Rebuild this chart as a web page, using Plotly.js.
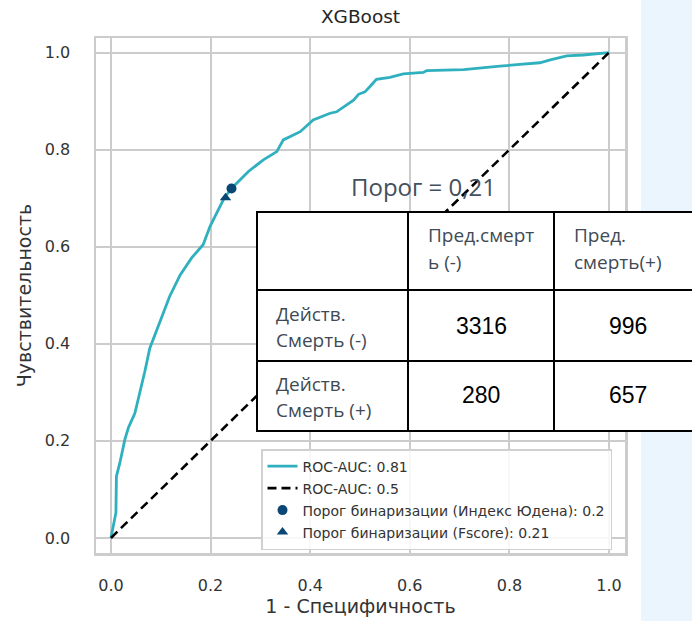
<!DOCTYPE html>
<html>
<head>
<meta charset="utf-8">
<script src="https://cdn.plot.ly/plotly-3.0.1.min.js"></script>
<style>html,body{margin:0;padding:0;background:#fff;}#chart{width:692px;height:621px;}</style>
</head>
<body>
<div id="chart"></div>
<script>
// ROC curve
const fpr = [0, 0.010, 0.011, 0.018, 0.028, 0.035, 0.048, 0.058, 0.068, 0.078, 0.092, 0.105, 0.118, 0.139, 0.162, 0.185, 0.199, 0.219, 0.229, 0.246, 0.276, 0.306, 0.333, 0.346, 0.380, 0.406, 0.440, 0.453, 0.487, 0.497, 0.510, 0.520, 0.533, 0.560, 0.587, 0.627, 0.634, 0.708, 0.748, 0.781, 0.815, 0.861, 0.882, 0.915, 0.948, 0.975, 1.0];
const tpr = [0, 0.052, 0.127, 0.155, 0.203, 0.227, 0.257, 0.298, 0.343, 0.391, 0.429, 0.463, 0.498, 0.542, 0.577, 0.604, 0.642, 0.683, 0.703, 0.724, 0.755, 0.779, 0.796, 0.820, 0.837, 0.861, 0.875, 0.878, 0.902, 0.914, 0.919, 0.930, 0.945, 0.949, 0.956, 0.959, 0.963, 0.965, 0.968, 0.972, 0.975, 0.979, 0.985, 0.993, 0.995, 0.998, 1.0];
const chanceX = [0, 1];
const chanceY = [0, 1];
const youdenX = [0.242];
const youdenY = [0.720];
const fscoreX = [0.230];
const fscoreY = [0.701];
const seriesNames = ["ROC-AUC: 0.81", "ROC-AUC: 0.5", "Порог бинаризации (Индекс Юдена): 0.2", "Порог бинаризации (Fscore): 0.21"];
const xTicks = [0, 0.2, 0.4, 0.6, 0.8, 1.0];
const yTicks = [0, 0.2, 0.4, 0.6, 0.8, 1.0];
const tickText = ["0.0", "0.2", "0.4", "0.6", "0.8", "1.0"];
// confusion matrix table
const thresholdLabel = "Порог = 0,21";
const colHeaders = [["Пред.смерт", "ь (-)"], ["Пред.", "смерть(+)"]];
const rowHeaders = [["Действ.", "Смерть (-)"], ["Действ.", "Смерть (+)"]];
const matrix = [[3316, 996], [280, 657]];

// pixel helpers (plot area: left 96, top 38, width 529, height 515)
const L = 96, T = 38, W = 529, H = 515;
const px = v => (v - L) / W;
const py = v => (T + H - v) / H;

const lineColor = "#2fb0bf";
const markColor = "#0b4775";

const traces = [
  {x: fpr, y: tpr, type: "scatter", mode: "lines", name: seriesNames[0], legendgroup: "a",
   line: {color: lineColor, width: 2.8}},
  {x: chanceX, y: chanceY, type: "scatter", mode: "lines", name: seriesNames[1], legendgroup: "b",
   line: {color: "#000", width: 2.6, dash: "9px,5px"}},
  {x: youdenX, y: youdenY, type: "scatter", mode: "markers", name: seriesNames[2], legendgroup: "c",
   marker: {color: markColor, size: 10, symbol: "circle"}},
  {x: fscoreX, y: fscoreY, type: "scatter", mode: "markers", name: seriesNames[3], legendgroup: "d",
   marker: {color: markColor, size: 10, symbol: "triangle-up"}}
];

// table geometry in pixels
const tl = 257, tr = 720, tt = 212, tb = 431;
const rowLines = [290, 361];
const colLines = [408, 554];
const colTextX = [428, 574];
const colCenters = [481, 628];
const headerLineY = [235, 262];
const rowLineY = [[314, 340], [384, 410]];
const rowCenters = [326, 395];

const shapes = [
  {type: "rect", xref: "paper", yref: "paper", x0: px(641), x1: px(700), y0: py(-5), y1: py(630),
   fillcolor: "#ebf5fd", line: {width: 0}, layer: "below"},
  {type: "rect", xref: "paper", yref: "paper", x0: px(tl), x1: px(tr), y0: py(tb), y1: py(tt),
   fillcolor: "#ffffff", line: {color: "#000", width: 2}, layer: "above"}
];
rowLines.forEach(y => shapes.push({type: "line", xref: "paper", yref: "paper", x0: px(tl), x1: px(tr), y0: py(y), y1: py(y),
  line: {color: "#000", width: 2}, layer: "above"}));
colLines.forEach(x => shapes.push({type: "line", xref: "paper", yref: "paper", x0: px(x), x1: px(x), y0: py(tb), y1: py(tt),
  line: {color: "#000", width: 2}, layer: "above"}));

const cellFont = {family: "Open Sans", size: 19, color: "#404a55"};
const numFont = {family: "Liberation Sans", size: 23, color: "#000"};
const annotations = [
  {text: thresholdLabel, xref: "paper", yref: "paper", x: px(349), y: py(186), xanchor: "left", yanchor: "middle",
   showarrow: false, font: {family: "Open Sans", size: 24, color: "#44505e"}}
];
colHeaders.forEach((lines, c) => lines.forEach((t, i) => annotations.push({
  text: t, xref: "paper", yref: "paper", x: px(colTextX[c] - 2), y: py(headerLineY[i]), xanchor: "left", yanchor: "middle",
  showarrow: false, font: cellFont})));
rowHeaders.forEach((lines, r) => lines.forEach((t, i) => annotations.push({
  text: t, xref: "paper", yref: "paper", x: px(274), y: py(rowLineY[r][i]), xanchor: "left", yanchor: "middle",
  showarrow: false, font: cellFont})));
matrix.forEach((row, r) => row.forEach((v, c) => annotations.push({
  text: String(v), xref: "paper", yref: "paper", x: px(colCenters[c]), y: py(rowCenters[r]), xanchor: "center", yanchor: "middle",
  showarrow: false, font: numFont})));

const axisCommon = {
  showgrid: true, gridcolor: "#cccccc", gridwidth: 2,
  showline: true, linecolor: "#cccccc", linewidth: 2.5, mirror: true,
  zeroline: false, ticks: "outside", tickcolor: "rgba(0,0,0,0)",
  tickfont: {family: "DejaVu Sans", size: 16, color: "#333"},
  tickmode: "array", ticktext: tickText
};

const layout = {
  width: 692, height: 621,
  margin: {l: L, r: 692 - L - W, t: T, b: 621 - T - H},
  paper_bgcolor: "#fff", plot_bgcolor: "#fff",
  font: {family: "DejaVu Sans", color: "#333"},
  title: {text: "XGBoost", x: 0.5, xref: "paper", xanchor: "center", y: 1 - 17 / 621, yanchor: "middle",
          font: {family: "DejaVu Sans", size: 18.5, color: "#262626"}},
  xaxis: Object.assign({}, axisCommon, {range: [-0.03, 1.032], tickvals: xTicks, ticklen: 16,
    title: {text: "1 - Специфичность", font: {family: "DejaVu Sans", size: 19, color: "#333"}, standoff: 4}}),
  yaxis: Object.assign({}, axisCommon, {range: [-0.031, 1.03], tickvals: yTicks, ticklen: 20,
    title: {text: "Чувствительность", font: {family: "DejaVu Sans", size: 19, color: "#333"}, standoff: 8}}),
  showlegend: true,
  legend: {x: px(261), y: py(449), xanchor: "left", yanchor: "top", bgcolor: "rgba(255,255,255,0.85)",
           bordercolor: "#d0d0d0", borderwidth: 1.5, font: {family: "DejaVu Sans", size: 14, color: "#333"},
           tracegroupgap: 0.8, traceorder: "grouped"},
  shapes: shapes,
  annotations: annotations
};

Plotly.newPlot("chart", traces, layout, {displayModeBar: false, staticPlot: true});
</script>
</body>
</html>
